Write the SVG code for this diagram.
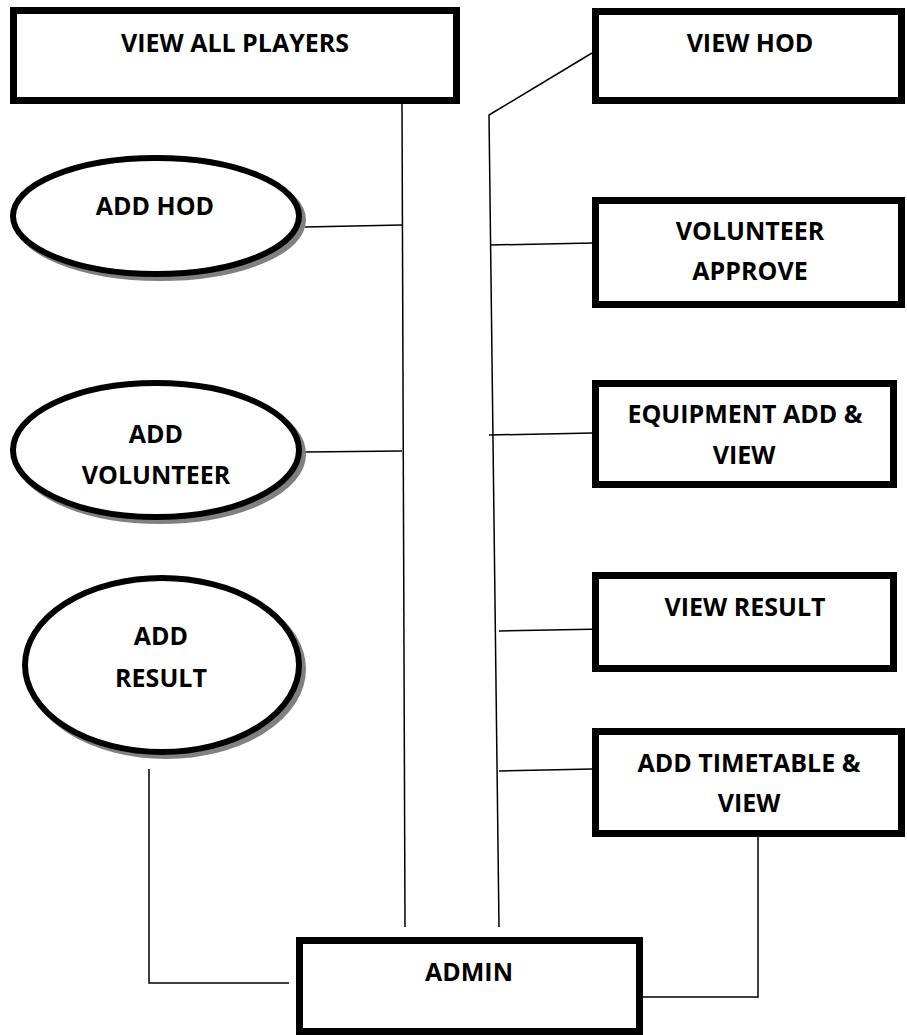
<svg xmlns="http://www.w3.org/2000/svg" width="907" height="1035" viewBox="0 0 907 1035">
<style>
.box{fill:#fff;stroke:#000;stroke-width:7}
.ell{fill:#fff;stroke:#000;stroke-width:6}
.sh{fill:#808080;stroke:#808080;stroke-width:6}
.t{font-family:"Open Sans","Liberation Sans",sans-serif;font-weight:bold;font-size:25px;fill:#000;text-anchor:middle}
.c{fill:none;stroke:#000;stroke-width:1.5}
</style>
<rect width="907" height="1035" fill="#fff"/>
<g id="connectors">
<line class="c" x1="402" y1="104" x2="405" y2="927"/>
<polyline class="c" points="592,53 489,115 499,927"/>
<line class="c" x1="305" y1="227" x2="402" y2="225"/>
<line class="c" x1="305" y1="452" x2="402" y2="451"/>
<line class="c" x1="490" y1="245" x2="593" y2="243"/>
<line class="c" x1="489" y1="435" x2="593" y2="433"/>
<line class="c" x1="499" y1="631" x2="605" y2="629"/>
<line class="c" x1="499" y1="771" x2="593" y2="769"/>
<polyline class="c" points="149,769 149,983 289,983"/>
<polyline class="c" points="758,837 758,997 643,997"/>
</g>
<g id="view-all-players">
<rect class="box" x="13.5" y="10.5" width="443" height="90"/>
<text class="t" x="235" y="52">VIEW ALL PLAYERS</text>
</g>
<g id="view-hod">
<rect class="box" x="595.5" y="11.5" width="306" height="89"/>
<text class="t" x="750" y="52">VIEW HOD</text>
</g>
<g id="add-hod">
<ellipse class="sh" cx="160" cy="220" rx="143" ry="58"/>
<ellipse class="ell" cx="156" cy="216" rx="143" ry="58"/>
<text class="t" x="155" y="215">ADD HOD</text>
</g>
<g id="volunteer-approve">
<rect class="box" x="595.5" y="200.5" width="306" height="104"/>
<text class="t" x="750" y="240">VOLUNTEER</text>
<text class="t" x="750" y="280">APPROVE</text>
</g>
<g id="add-volunteer">
<ellipse class="sh" cx="160" cy="454" rx="143" ry="67"/>
<ellipse class="ell" cx="156" cy="450" rx="143" ry="67"/>
<text class="t" x="156" y="443">ADD</text>
<text class="t" x="156" y="484">VOLUNTEER</text>
</g>
<g id="equipment">
<rect class="box" x="595.5" y="383.5" width="298" height="101"/>
<text class="t" x="745" y="423">EQUIPMENT ADD &amp;</text>
<text class="t" x="744" y="464">VIEW</text>
</g>
<g id="add-result">
<ellipse class="sh" cx="166" cy="669" rx="137" ry="87"/>
<ellipse class="ell" cx="162" cy="665" rx="137" ry="87"/>
<text class="t" x="161" y="645">ADD</text>
<text class="t" x="161" y="687">RESULT</text>
</g>
<g id="view-result">
<rect class="box" x="595.5" y="575.5" width="298" height="93"/>
<text class="t" x="745" y="616">VIEW RESULT</text>
</g>
<g id="add-timetable">
<rect class="box" x="595.5" y="731.5" width="306" height="102"/>
<text class="t" x="749" y="772">ADD TIMETABLE &amp;</text>
<text class="t" x="749" y="812">VIEW</text>
</g>
<g id="admin">
<rect class="box" x="299.5" y="940.5" width="340" height="91"/>
<text class="t" x="469" y="981">ADMIN</text>
</g>
</svg>
